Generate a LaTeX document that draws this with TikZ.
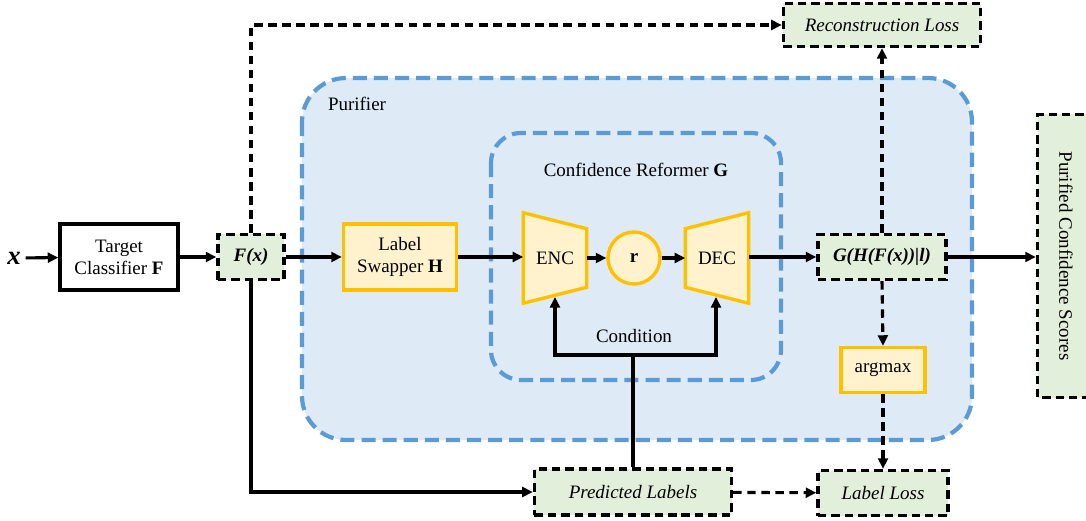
\documentclass[tikz,border=0pt]{standalone}
\usepackage{fontspec}
\setmainfont{Liberation Serif}
\usepackage{tikz}
\usetikzlibrary{arrows.meta}

\definecolor{outgreen}{HTML}{E2EFDA}
\definecolor{modyellow}{HTML}{FFC000}
\definecolor{modfill}{HTML}{FFF2CC}
\definecolor{regblue}{HTML}{5B9BD5}
\definecolor{regfill}{HTML}{DEEAF6}

\begin{document}
\begin{tikzpicture}[x=0.025cm,y=-0.025cm,
	every node/.style={align=center,font=\fontsize{13.5}{15.5}\selectfont},
	region/.style={draw=regblue,fill=regfill,line width=3pt,dash pattern=on 10pt off 5pt},
	plain/.style={draw=black,fill=white,line width=2.4pt},
	result/.style={draw=black,fill=outgreen,line width=2.4pt,dash pattern=on 6pt off 3.5pt},
	module/.style={draw=modyellow,fill=modfill,line width=2.4pt},
	flow/.style={line width=2.2pt,-{Triangle[length=7.5pt,width=7pt]}},
	dflow/.style={flow,dash pattern=on 6pt off 4pt}]
	\useasboundingbox (0,0) rectangle (1086,520);

	% purifier and reformer regions
	\draw[region,rounded corners=1.1cm] (302,78) rectangle (972,440);
	\node at (357,104) {Purifier};
	\draw[region,rounded corners=0.75cm] (491,133) rectangle (781,380);
	\node at (636,170) {Confidence Reformer \textbf{G}};

	% main path
	\node[font=\fontsize{19}{21}\selectfont] (x) at (14,258) {\textbf{\textit{x}}};
	\node[plain,minimum width=2.95cm,minimum height=1.65cm] (cls) at (119,257) {Target\\Classifier \textbf{F}};
	\node[result,minimum width=1.65cm,minimum height=1.125cm] (fx) at (251,257) {\textbf{\textit{F(x)}}};
	\node[module,minimum width=2.825cm,minimum height=1.65cm] (swap) at (400,257) {Label\\Swapper \textbf{H}};

	% encoder / decoder
	\node[inner sep=0pt,minimum width=1.575cm,minimum height=2.25cm] (enc) at (555,258) {};
	\draw[module,line join=miter] (enc.north west) -- ([yshift=-0.4cm]enc.north east) -- ([yshift=0.4cm]enc.south east) -- (enc.south west) -- cycle;
	\node at (enc) {ENC};
	\node[module,circle,minimum size=1.3cm,inner sep=0pt] (r) at (634,258) {\textbf{r}};
	\node[inner sep=0pt,minimum width=1.575cm,minimum height=2.25cm] (dec) at (717,258) {};
	\draw[module,line join=miter] ([yshift=-0.4cm]dec.north west) -- (dec.north east) -- (dec.south east) -- ([yshift=0.4cm]dec.south west) -- cycle;
	\node at (dec) {DEC};

	\node[result,minimum width=3.2cm,minimum height=1.125cm] (g) at (882,257) {\textbf{\textit{G(H(F(x))|l)}}};
	\node[result,rotate=-90,minimum width=7.075cm,minimum height=1.425cm] (pur) at (1066,256) {Purified Confidence Scores};
	\node[result,minimum width=4.925cm,minimum height=1.075cm] (rec) at (882,25) {\textit{Reconstruction Loss}};
	\node[module,minimum width=2.1cm,minimum height=1.125cm] (amax) at (883,370) {argmax};
	\node[result,minimum width=3.25cm,minimum height=1.125cm] (lloss) at (883,493) {\textit{Label Loss}};
	\node[result,minimum width=4.925cm,minimum height=1.15cm] (pred) at (633,492) {\textit{Predicted Labels}};

	% connectors
	\draw[flow] (x) -- (cls);
	\draw[flow] (cls) -- (fx);
	\draw[flow] (fx) -- (swap);
	\draw[flow] (swap) -- (enc.west |- swap);
	\draw[flow] (enc.east |- r) -- (r);
	\draw[flow] (r) -- (dec.west |- r);
	\draw[flow] (dec.east |- g) -- (g);
	\draw[flow] (g) -- (pur.south |- g);
	\draw[dflow] (fx.north) |- (rec);
	\draw[dflow] (g.north) -- (rec.south);
	\draw[dflow] (g.south) -- (amax.north);
	\draw[dflow] (amax.south) -- (lloss.north);
	\draw[flow] (fx.south) |- (pred);
	\draw[dflow] (pred) -- (lloss);

	% condition input
	\coordinate (cond) at (633,355);
	\coordinate (encin) at (555,297);
	\coordinate (decin) at (716,297);
	\draw[line width=2.2pt] (pred.north) -- (cond);
	\draw[flow] (cond) -| (encin);
	\draw[flow] (cond) -| (decin);
	\node (condlabel) at (634,336) {Condition};
\end{tikzpicture}
\end{document}
